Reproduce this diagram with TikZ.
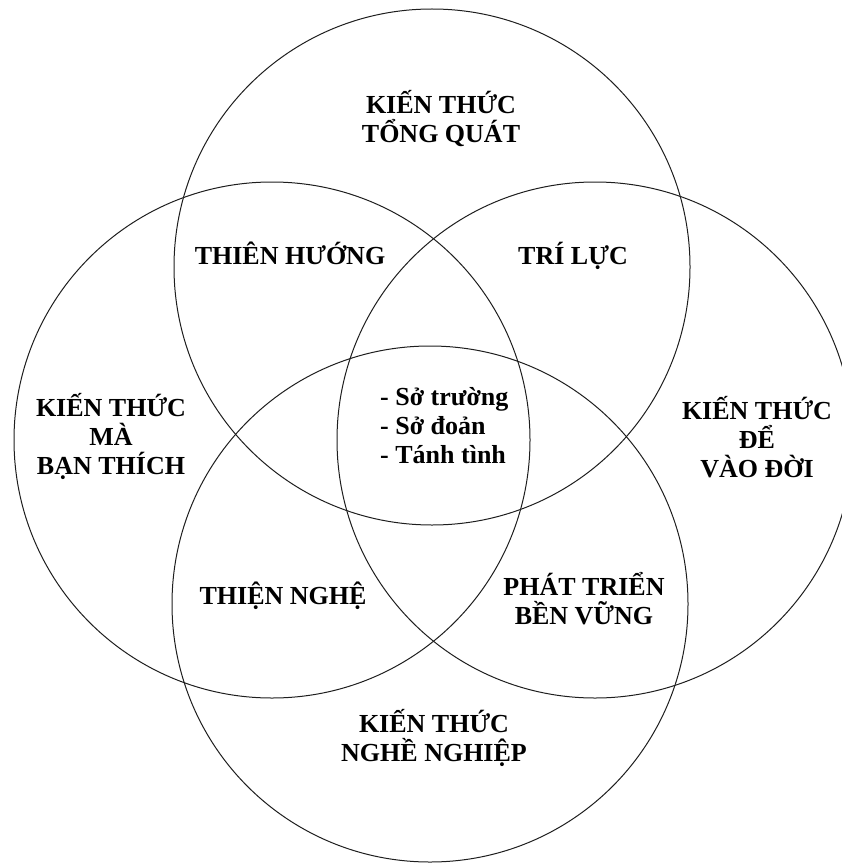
\documentclass[tikz,border=0pt]{standalone}
\usepackage{fontspec}
\setmainfont{Liberation Serif}
\definecolor{vennline}{RGB}{30, 30, 30}
\definecolor{venntext}{RGB}{0, 0, 0}

\begin{document}
\begin{tikzpicture}[x=1pt, y=-1pt,
    vong/.style={draw=vennline, circle, line width=1pt, minimum size=516pt, inner sep=0pt},
    nhan/.style={font=\fontsize{26}{29}\selectfont\bfseries, text=venntext, align=center, inner sep=0pt}]

\useasboundingbox (0,0) rectangle (842,864);

% Bốn vòng tròn
\node[vong] (tongquat) at (432,267) {};
\node[vong] (banthich) at (272,440) {};
\node[vong] (vaodoi) at (595,440) {};
\node[vong] (nghenghiep) at (430,604) {};

% Nhãn của từng vòng
\node[nhan] (lbtongquat) at (441,119) {KIẾN THỨC\\TỔNG QUÁT};
\node[nhan] (lbbanthich) at (111,436) {KIẾN THỨC\\MÀ\\BẠN THÍCH};
\node[nhan] (lbvaodoi) at (757,437) {KIẾN THỨC\\ĐỂ\\VÀO ĐỜI};
\node[nhan] (lbnghenghiep) at (434,738) {KIẾN THỨC\\NGHỀ NGHIỆP};

% Phần giao nhau
\node[nhan] (thienhuong) at (290,253) {THIÊN HƯỚNG};
\node[nhan] (triluc) at (573,256) {TRÍ LỰC};
\node[nhan] (thiennghe) at (283,596) {THIỆN NGHỆ};
\node[nhan] (phattrien) at (584,599) {PHÁT TRIỂN\\BỀN VỮNG};

% Vùng giữa
\node[nhan, align=left, anchor=west] (giua) at (380,426) {- Sở trường\\- Sở đoản\\- Tánh tình};

\end{tikzpicture}
\end{document}
